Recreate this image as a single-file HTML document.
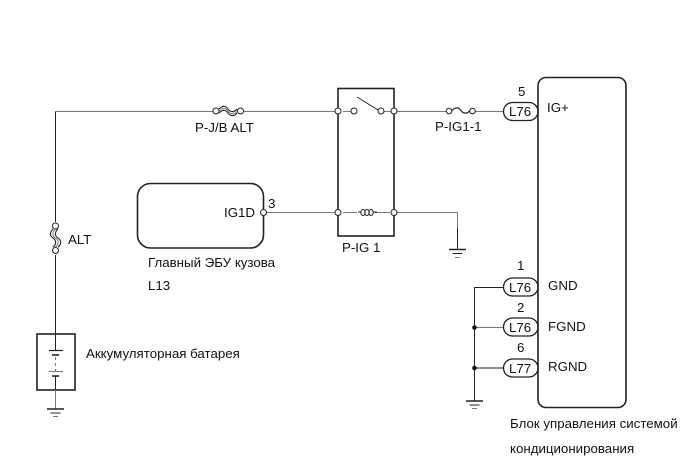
<!DOCTYPE html>
<html>
<head>
<meta charset="utf-8">
<style>
html,body{margin:0;padding:0;background:#fff;width:691px;height:465px;overflow:hidden}
svg{display:block}
text{font-family:"Liberation Sans",sans-serif;font-size:13.3px;fill:#111}
.w{stroke:#777;stroke-width:1;fill:none}
.d{stroke:#222;stroke-width:1;fill:none}
.b{stroke:#222;stroke-width:1.6;fill:none}
.c{stroke:#222;stroke-width:1;fill:#fff}
</style>
</head>
<body>
<svg width="691" height="465" viewBox="0 0 691 465" xmlns="http://www.w3.org/2000/svg">
<!-- main wires -->
<path class="w" d="M55.5 111.5H215M241 111.5H338M394 111.5H447M474 111.5H503"/>
<path class="d" d="M55.5 111.5V222M55.5 255V350"/>
<path class="w" d="M267 212.5H338M394 212.5H457.5V228"/>
<path class="d" d="M457.5 228V249"/>
<path class="b" style="stroke-width:1.4" d="M449 249.5H466"/>
<path class="d" d="M452.5 253.5H462.5"/>
<path class="w" d="M455 257.5H460"/>

<!-- relay -->
<rect class="b" x="338" y="88.5" width="56" height="147.5"/>
<path class="d" d="M357 97L378 110"/>
<path class="w" d="M384 111.5H394M343 111.5H351M343 212.5H357M375 212.5H390"/>
<circle class="c" cx="338" cy="111" r="3"/>
<circle class="c" cx="354" cy="111" r="3"/>
<circle class="c" cx="381" cy="111" r="3"/>
<circle class="c" cx="394" cy="111" r="3"/>
<circle class="c" cx="338" cy="212.5" r="3"/>
<circle class="c" cx="394" cy="212.5" r="3"/>
<path class="d" d="M358 212H361"/>
<ellipse class="d" cx="363" cy="212.5" rx="2.2" ry="3"/>
<ellipse class="d" cx="367" cy="212.5" rx="2.2" ry="3"/>
<ellipse class="d" cx="371" cy="212.5" rx="2.2" ry="3"/>
<path class="d" d="M373 212H377"/>

<!-- P-J/B ALT fuse -->
<circle class="c" cx="216" cy="111" r="3"/>
<circle class="c" cx="240.5" cy="111" r="3"/>
<path class="b" style="stroke-width:1.1" d="M219 109c4-4 7-3 9 0s6 4 9 0M219 113c4-4 7-3 9 0s6 4 9 0"/>
<path class="w" d="M219 111c4-4 7-3 9 0s6 4 9 0"/>

<!-- P-IG1-1 fuse -->
<circle class="c" cx="449" cy="111" r="2.8"/>
<circle class="c" cx="472.5" cy="111" r="2.8"/>
<path class="d" style="stroke-width:1.2" d="M452 110.5c4-4 7-3 9 0s6 4 9 0"/>

<!-- ALT fuse -->
<circle class="c" cx="55.5" cy="226" r="3"/>
<circle class="c" cx="55.5" cy="250.5" r="3"/>
<path class="b" style="stroke-width:1.1" d="M53 229c-4 4-3 7 0 9s4 6 0 9M58 229c-4 4-3 7 0 9s4 6 0 9"/>
<path class="w" d="M55.5 229c-4 4-3 7 0 9s4 6 0 9"/>

<!-- ECU -->
<rect class="b" x="137.5" y="183.500" width="126" height="64.5" rx="13" ry="13"/>
<circle class="c" cx="263.5" cy="212.5" r="3"/>

<!-- pills -->
<rect class="c" style="stroke-width:1.3" x="503.5" y="102.5" width="34.5" height="18" rx="9" ry="9"/>
<rect class="c" style="stroke-width:1.3" x="503.5" y="278" width="34.5" height="18" rx="9" ry="9"/>
<rect class="c" style="stroke-width:1.3" x="503.5" y="318" width="34.5" height="18" rx="9" ry="9"/>
<rect class="c" style="stroke-width:1.3" x="503.5" y="359" width="34.5" height="18" rx="9" ry="9"/>

<!-- AC unit -->
<rect class="b" x="538" y="77.5" width="88" height="330" rx="8" ry="8"/>

<!-- ground bus -->
<path class="d" d="M503 287.5H474.5V401M474.5 368H503"/>
<path class="w" d="M474.5 327.5H503"/>
<circle cx="474.5" cy="327.5" r="2.3" fill="#111"/>
<circle cx="474.5" cy="368" r="2.3" fill="#111"/>
<path class="b" style="stroke-width:1.4" d="M466 401H483"/>
<path class="d" d="M469.5 405H479.5"/>
<path class="w" d="M472 408.5H477"/>

<!-- battery -->
<rect class="b" x="37" y="334" width="38" height="56"/>
<path class="b" style="stroke-width:1.2" d="M49 350.5H63"/>
<path class="b" d="M52 355H59"/>
<path class="w" d="M55.5 357V375" stroke-dasharray="3 3"/>
<path class="w" d="M49 371.5H63"/>
<path class="b" d="M52 376H59"/>
<path class="d" d="M55.5 376V390"/>
<path class="w" d="M55.5 390V409"/>
<path class="b" style="stroke-width:1.4" d="M47 409H64"/>
<path class="d" d="M50.5 413H60.5"/>
<path class="w" d="M53 416.5H58"/>

<!-- labels -->
<text x="195" y="132">P-J/B ALT</text>
<text x="435" y="131">P-IG1-1</text>
<text x="342" y="252">P-IG 1</text>
<text x="68" y="244">ALT</text>
<text x="224" y="217">IG1D</text>
<text x="268" y="208">3</text>
<text x="148" y="267">Главный ЭБУ кузова</text>
<text x="148" y="290">L13</text>
<text x="86" y="358">Аккумуляторная батарея</text>
<text x="518" y="96">5</text>
<text x="509" y="116">L76</text>
<text x="547" y="112">IG+</text>
<text x="517" y="270">1</text>
<text x="509" y="292">L76</text>
<text x="548" y="290">GND</text>
<text x="517" y="312">2</text>
<text x="509" y="332">L76</text>
<text x="548" y="331">FGND</text>
<text x="517" y="352">6</text>
<text x="509" y="373">L77</text>
<text x="548" y="371">RGND</text>
<text x="510" y="428">Блок управления системой</text>
<text x="510" y="453">кондиционирования</text>
</svg>
</body>
</html>
